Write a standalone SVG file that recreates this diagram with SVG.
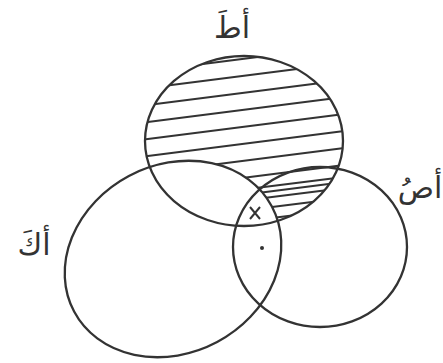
<svg xmlns="http://www.w3.org/2000/svg" width="443" height="363" viewBox="0 0 443 363">
<style>
.shape{fill:none;stroke:#333;stroke-width:2.3}
.hatch{stroke:#333;stroke-width:2;fill:none}
.lbl{font-family:"DejaVu Sans",sans-serif;font-size:30px;fill:#333}
</style>
<defs>
<mask id="hm">
<ellipse cx="244" cy="141" rx="99" ry="85" fill="#fff"/>
<ellipse cx="173" cy="259" rx="112" ry="94" transform="rotate(-28 173 259)" fill="#000"/>
</mask>
</defs>
<rect width="443" height="363" fill="#fff"/>
<g id="hatching" mask="url(#hm)">
<path class="hatch" d="M140 72 L360 44 M140 89 L360 61 M140 106 L360 78 M140 123 L360 95 M140 140 L360 112 M140 157 L360 129 M140 174 L360 146 M140 191 L360 163 M140 208 L360 180 M240 190 L360 175 M240 201 L360 186 M240 211 L360 196 M240 222 L360 207 M240 234 L360 219 M240 246 L360 231"/>
</g>
<g id="set-top">
<ellipse class="shape" cx="244" cy="141" rx="99" ry="85"/>
<text class="lbl" x="232" y="38" text-anchor="middle" direction="rtl">أطَ</text>
</g>
<g id="set-left">
<ellipse class="shape" cx="173" cy="259" rx="112" ry="94" transform="rotate(-28 173 259)"/>
<text class="lbl" x="34" y="255" text-anchor="middle" direction="rtl">أكَ</text>
</g>
<g id="set-right">
<ellipse class="shape" cx="320" cy="247" rx="87" ry="80"/>
<text class="lbl" x="420" y="198" text-anchor="middle" direction="rtl">أصُ</text>
</g>
<g id="marks">
<path class="hatch" d="M250 207 L260 219 M260 207 L250 219"/>
<circle cx="262" cy="248" r="2" fill="#333"/>
</g>
<g id="connectors"/>
</svg>
